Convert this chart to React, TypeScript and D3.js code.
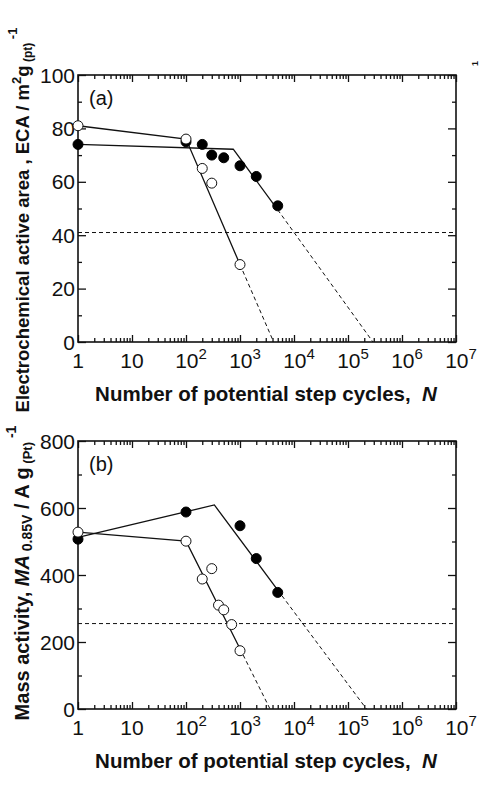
import { useEffect, useRef } from 'react'
import * as d3 from 'd3'

// cycle counts shared by both panels
const decadeTicks = [1, 10, 100, 1e3, 1e4, 1e5, 1e6, 1e7]
const decadeExp = [null, null, 2, 3, 4, 5, 6, 7]

// (a) electrochemical active area, m2 g-1
const ecaOpenN = [1, 100, 200, 300, 1000]
const ecaOpen = [81, 76, 65, 59.5, 29]
const ecaFilledN = [1, 100, 200, 300, 500, 1000, 2000, 5000]
const ecaFilled = [74, 75, 74, 70, 69, 66, 62, 51]
const ecaOpenFitN = [1, 100, 1000]
const ecaOpenFit = [81, 76, 29]
const ecaOpenExtN = [1000, 4200]
const ecaOpenExt = [29, 0]
const ecaFilledFitN = [1, 750, 5000]
const ecaFilledFit = [74, 72.2, 49.5]
const ecaFilledExtN = [5000, 2.9e5]
const ecaFilledExt = [49.5, 0]
const ecaLimit = 41
const ecaTicks = [0, 20, 40, 60, 80, 100]

// (b) mass activity at 0.85 V, A g-1
const maOpenN = [1, 100, 200, 300, 400, 500, 700, 1000]
const maOpen = [528, 501, 388, 419, 310, 296, 252, 174]
const maFilledN = [1, 100, 1000, 2000, 5000]
const maFilled = [507, 588, 547, 449, 348]
const maOpenFitN = [1, 100, 1000]
const maOpenFit = [528, 501, 180]
const maOpenExtN = [1000, 3600]
const maOpenExt = [180, 0]
const maFilledFitN = [1, 335, 5000]
const maFilledFit = [512, 609, 355]
const maFilledExtN = [5000, 2.2e5]
const maFilledExt = [355, 0]
const maLimit = 255
const maTicks = [0, 200, 400, 600, 800]

const FONT = "'Liberation Sans', Arial, sans-serif"
const W = 486
const H = 786

type Panel = {
  top: number
  bottom: number
  yMax: number
  yTicks: number[]
  label: string
  openN: number[]; open: number[]
  filledN: number[]; filled: number[]
  openFitN: number[]; openFit: number[]
  openExtN: number[]; openExt: number[]
  filledFitN: number[]; filledFit: number[]
  filledExtN: number[]; filledExt: number[]
  limit: number
}

const zip = (xs: number[], ys: number[]) => xs.map((x, i) => [x, ys[i]] as [number, number])

function drawPanel(svg: d3.Selection<SVGSVGElement, unknown, null, undefined>, p: Panel) {
  const left = 78
  const right = 456
  const x = d3.scaleLog().domain([1, 1e7]).range([left, right])
  const y = d3.scaleLinear().domain([0, p.yMax]).range([p.bottom, p.top])
  const g = svg.append('g')

  const minorX: number[] = []
  decadeTicks.slice(0, -1).forEach(d => { for (let k = 2; k <= 9; k++) minorX.push(d * k) })
  const step = p.yTicks[1] - p.yTicks[0]
  const minorY = p.yTicks.slice(0, -1).map(v => v + step / 2)

  const tickAxis = (axis: d3.Axis<d3.NumberValue>, tx: number, ty: number) => {
    const a = g.append('g').attr('transform', `translate(${tx},${ty})`).call(axis)
    a.select('.domain').remove()
    a.selectAll('text').remove()
    a.selectAll('line').attr('stroke', '#111').attr('stroke-width', 1.3)
  }
  // inward ticks on all four sides
  tickAxis(d3.axisBottom(x).tickValues(decadeTicks).tickSize(-7), 0, p.bottom)
  tickAxis(d3.axisBottom(x).tickValues(minorX).tickSize(-4), 0, p.bottom)
  tickAxis(d3.axisTop(x).tickValues(decadeTicks).tickSize(-7), 0, p.top)
  tickAxis(d3.axisTop(x).tickValues(minorX).tickSize(-4), 0, p.top)
  tickAxis(d3.axisLeft(y).tickValues(p.yTicks).tickSize(-8), left, 0)
  tickAxis(d3.axisLeft(y).tickValues(minorY).tickSize(-4), left, 0)
  tickAxis(d3.axisRight(y).tickValues(p.yTicks).tickSize(-8), right, 0)
  tickAxis(d3.axisRight(y).tickValues(minorY).tickSize(-4), right, 0)

  g.append('rect')
    .attr('x', left).attr('y', p.top)
    .attr('width', right - left).attr('height', p.bottom - p.top)
    .attr('fill', 'none').attr('stroke', '#111').attr('stroke-width', 1.6)

  // y tick labels
  g.selectAll('text.yt').data(p.yTicks).enter().append('text')
    .attr('class', 'yt')
    .attr('x', left - 3).attr('y', d => y(d) + 7.5)
    .attr('text-anchor', 'end')
    .attr('font-family', FONT).attr('font-size', 21).attr('fill', '#111')
    .text(d => d)

  // x tick labels with exponents
  decadeTicks.forEach((d, i) => {
    const t = g.append('text')
      .attr('x', x(d)).attr('y', p.bottom + 26)
      .attr('text-anchor', 'middle')
      .attr('font-family', FONT).attr('font-size', 21).attr('fill', '#111')
    if (decadeExp[i] == null) {
      t.text(d)
    } else {
      t.attr('dx', 5)
      t.append('tspan').text('10')
      t.append('tspan').attr('dy', -9).attr('font-size', 15).text(decadeExp[i])
    }
  })

  g.append('text')
    .attr('x', 266).attr('y', p.bottom + 59)
    .attr('text-anchor', 'middle')
    .attr('font-family', FONT).attr('font-size', 20.5).attr('font-weight', 'bold').attr('fill', '#111')
    .call(t => {
      t.append('tspan').text('Number of potential step cycles,\u00a0\u00a0')
      t.append('tspan').attr('font-style', 'italic').text('N')
    })

  g.append('text')
    .attr('x', 89).attr('y', p.top + 30)
    .attr('font-family', FONT).attr('font-size', 20).attr('fill', '#111')
    .text(p.label)

  // horizontal target level
  g.append('line')
    .attr('x1', left).attr('x2', right)
    .attr('y1', y(p.limit)).attr('y2', y(p.limit))
    .attr('stroke', '#111').attr('stroke-width', 1).attr('stroke-dasharray', '4,3')

  const line = d3.line<[number, number]>().x(d => x(d[0])).y(d => y(d[1]))
  const path = (pts: [number, number][], dashed: boolean) =>
    g.append('path').attr('d', line(pts))
      .attr('fill', 'none').attr('stroke', '#111')
      .attr('stroke-width', dashed ? 1 : 1.3)
      .attr('stroke-dasharray', dashed ? '4,3' : null)

  path(zip(p.openFitN, p.openFit), false)
  path(zip(p.openExtN, p.openExt), true)
  path(zip(p.filledFitN, p.filledFit), false)
  path(zip(p.filledExtN, p.filledExt), true)

  g.selectAll('circle.f').data(zip(p.filledN, p.filled)).enter().append('circle')
    .attr('class', 'f')
    .attr('cx', d => x(d[0])).attr('cy', d => y(d[1])).attr('r', 5)
    .attr('fill', '#000').attr('stroke', '#000')
  g.selectAll('circle.o').data(zip(p.openN, p.open)).enter().append('circle')
    .attr('class', 'o')
    .attr('cx', d => x(d[0])).attr('cy', d => y(d[1])).attr('r', 5)
    .attr('fill', '#fff').attr('stroke', '#111').attr('stroke-width', 1)
}

export default function App() {
  const svgRef = useRef<SVGSVGElement>(null)

  useEffect(() => {
    if (!svgRef.current) return
    const svg = d3.select(svgRef.current)
    svg.selectAll('*').remove()

    drawPanel(svg, {
      top: 75, bottom: 342, yMax: 100, yTicks: ecaTicks, label: '(a)',
      openN: ecaOpenN, open: ecaOpen, filledN: ecaFilledN, filled: ecaFilled,
      openFitN: ecaOpenFitN, openFit: ecaOpenFit, openExtN: ecaOpenExtN, openExt: ecaOpenExt,
      filledFitN: ecaFilledFitN, filledFit: ecaFilledFit, filledExtN: ecaFilledExtN, filledExt: ecaFilledExt,
      limit: ecaLimit
    })
    drawPanel(svg, {
      top: 441, bottom: 709, yMax: 800, yTicks: maTicks, label: '(b)',
      openN: maOpenN, open: maOpen, filledN: maFilledN, filled: maFilled,
      openFitN: maOpenFitN, openFit: maOpenFit, openExtN: maOpenExtN, openExt: maOpenExt,
      filledFitN: maFilledFitN, filledFit: maFilledFit, filledExtN: maFilledExtN, filledExt: maFilledExt,
      limit: maLimit
    })

    // y-axis titles
    const yTitle = (cy: number, size: number) => svg.append('text')
      .attr('transform', `translate(29,${cy}) rotate(-90)`)
      .attr('text-anchor', 'middle')
      .attr('font-family', FONT).attr('font-size', size).attr('font-weight', 'bold').attr('fill', '#111')

    const ta = yTitle(220, 18.5)
    ta.append('tspan').text('Electrochemical active area , ECA / m')
    ta.append('tspan').attr('font-size', 13).attr('dy', -8).text('2')
    ta.append('tspan').attr('dy', 8).text('g')
    ta.append('tspan').attr('font-size', 12).attr('dy', 3).text(' (pt)')
    ta.append('tspan').attr('font-size', 13).attr('dy', -15).text(' -1')

    const tb = yTitle(573, 20)
    tb.append('tspan').text('Mass activity, ')
    tb.append('tspan').attr('font-style', 'italic').text('MA')
    tb.append('tspan').attr('font-size', 14).attr('dy', 3).text(' 0.85V')
    tb.append('tspan').attr('dy', -3).text(' / A g')
    tb.append('tspan').attr('font-size', 13).attr('dy', 3).text(' (Pt)')
    tb.append('tspan').attr('font-size', 14).attr('dy', -16).text(' -1')

    // stray superscript at the top right edge
    svg.append('text')
      .attr('transform', 'translate(478,66) rotate(-90)')
      .attr('font-family', FONT).attr('font-size', 9).attr('font-weight', 'bold').attr('fill', '#111')
      .text('1')
  }, [])

  return (
    <svg
      ref={svgRef}
      width={W}
      height={H}
      style={{ position: 'absolute', left: 0, top: 0, background: '#fff' }}
    />
  )
}
